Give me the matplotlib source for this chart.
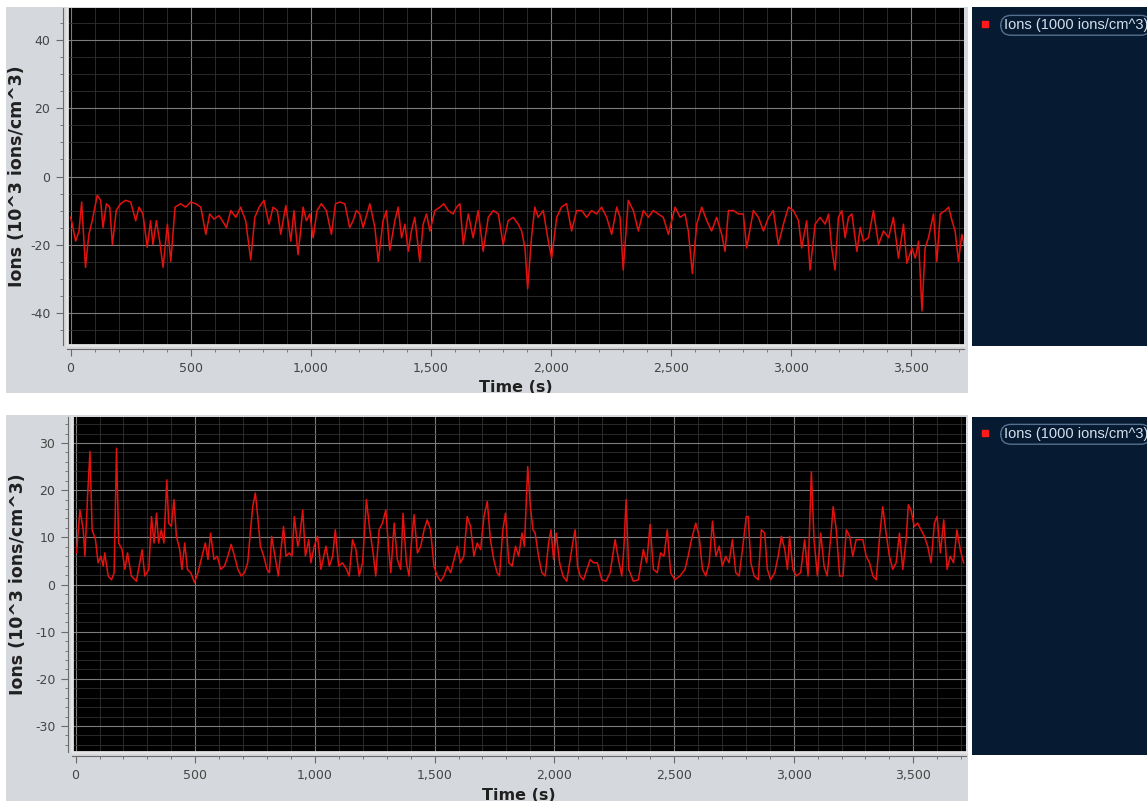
import matplotlib.pyplot as plt
from matplotlib.patches import Rectangle
from matplotlib.lines import Line2D
from matplotlib.ticker import MultipleLocator, StrMethodFormatter

plt.rcParams['axes.unicode_minus'] = False
plt.rcParams['font.family'] = 'DejaVu Sans'

# --- data (time in s, ions in 10^3 ions/cm^3) ---
t_top = [0, 7, 21, 35, 46, 62, 76, 90, 111, 125, 135, 149, 163, 174, 190, 208, 229, 250,
         271, 285, 301, 319, 333, 343, 357, 371, 385, 403, 417, 435, 458, 479, 500, 521,
         542, 563, 579, 597, 618, 632, 649, 667, 688, 708, 729, 750, 767, 785, 805, 826,
         843, 861, 875, 896, 917, 930, 947, 968, 982, 996, 1010, 1026, 1044, 1065, 1086,
         1103, 1121, 1142, 1162, 1176, 1190, 1204, 1218, 1246, 1267, 1281, 1301, 1315,
         1329, 1350, 1364, 1378, 1392, 1406, 1419, 1433, 1454, 1468, 1482, 1496, 1517,
         1538, 1554, 1572, 1593, 1607, 1621, 1635, 1656, 1676, 1697, 1718, 1739, 1760,
         1781, 1801, 1822, 1843, 1864, 1878, 1892, 1903, 1919, 1933, 1947, 1968, 1989,
         2003, 2024, 2044, 2065, 2086, 2107, 2128, 2149, 2169, 2190, 2211, 2232, 2253,
         2274, 2288, 2301, 2322, 2343, 2364, 2385, 2406, 2426, 2447, 2468, 2489, 2503,
         2517, 2538, 2558, 2572, 2589, 2607, 2628, 2649, 2669, 2690, 2711, 2725, 2739,
         2760, 2781, 2801, 2815, 2843, 2864, 2885, 2906, 2926, 2947, 2968, 2989, 3010,
         3031, 3044, 3065, 3079, 3100, 3121, 3142, 3156, 3169, 3183, 3197, 3211, 3225,
         3239, 3253, 3274, 3288, 3301, 3322, 3343, 3364, 3385, 3406, 3426, 3447, 3468,
         3482, 3503, 3517, 3531, 3545, 3558, 3572, 3593, 3607, 3621, 3642, 3656, 3670,
         3683, 3697, 3711, 3720]
ions_top = [-12, -14, -19, -16, -7.5, -26.7, -17, -13, -5.5, -7, -15, -8, -9, -20, -10, -8, -7, -7.5,
            -13, -9, -11, -20.8, -13, -20, -13, -19, -26.7, -14, -25, -9, -8, -9, -7.5, -8,
            -9, -17, -11, -12.5, -11.5, -13, -15, -10, -12, -9, -13, -24.5, -12, -9, -7, -14,
            -9, -10, -17, -8.5, -19, -10, -23, -9, -13, -11, -18, -10, -8, -10, -17,
            -8, -7.5, -8, -15, -13, -10, -11, -15, -8, -15, -25, -13, -10,
            -21.7, -13, -9, -18, -14, -22, -16, -12, -25, -14, -11, -16, -10,
            -9, -8, -10, -11, -9, -8, -20, -11, -18, -10, -22, -12, -10,
            -11, -20, -13, -12, -14, -16, -21, -33, -18, -9, -12, -10, -19,
            -24, -12, -9, -8, -16, -10, -10, -12, -10, -11, -9, -12, -17,
            -9, -12, -27.5, -7, -10, -16, -10, -12, -10, -11, -12, -17, -13,
            -9, -12, -11, -16, -28.5, -14, -9, -13, -16, -12, -17, -22, -10,
            -10, -11, -11, -21, -10, -12, -16, -12, -10, -20, -14, -9, -10,
            -13, -21, -13, -27.5, -14, -12, -14, -11, -21, -27.5, -12, -10, -18,
            -12, -11, -22, -15, -19, -18, -10, -20, -16, -18, -12, -24, -14,
            -25.5, -21, -24, -19, -39.5, -21, -18, -11, -25, -11, -10, -9, -13,
            -16, -25, -17, -20]

t_bot = [4, 18, 32, 39, 50, 60, 69, 83, 94, 106, 115, 122, 136, 150, 161, 171, 180, 194,
         206, 217, 233, 254, 268, 278, 289, 306, 317, 328, 338, 347, 358, 369, 381, 389,
         400, 411, 421, 435, 444, 456, 467, 481, 497, 511, 528, 542, 553, 564, 578, 592,
         606, 622, 636, 650, 664, 678, 692, 706, 719, 731, 740, 751, 761, 772, 786, 800,
         810, 819, 833, 847, 858, 869, 879, 893, 904, 914, 928, 935, 949, 960, 974, 983,
         997, 1011, 1025, 1046, 1060, 1074, 1085, 1099, 1115, 1132, 1143, 1157, 1171,
         1185, 1199, 1215, 1229, 1243, 1254, 1268, 1282, 1296, 1307, 1317, 1331, 1344,
         1358, 1368, 1382, 1393, 1404, 1414, 1428, 1442, 1456, 1469, 1483, 1497, 1511,
         1525, 1539, 1553, 1567, 1581, 1595, 1608, 1622, 1636, 1650, 1664, 1678, 1692,
         1706, 1720, 1733, 1747, 1761, 1771, 1785, 1796, 1810, 1824, 1838, 1851, 1865,
         1875, 1889, 1900, 1911, 1920, 1934, 1948, 1962, 1976, 1986, 1997, 2008, 2022,
         2036, 2052, 2066, 2077, 2087, 2097, 2108, 2122, 2136, 2150, 2164, 2180, 2198,
         2216, 2233, 2254, 2268, 2282, 2291, 2300, 2311, 2330, 2351, 2372, 2386, 2400,
         2414, 2430, 2444, 2458, 2472, 2486, 2504, 2525, 2546, 2559, 2573, 2591, 2605,
         2619, 2633, 2647, 2661, 2675, 2689, 2702, 2716, 2730, 2744, 2758, 2772, 2786,
         2802, 2810, 2821, 2835, 2852, 2865, 2879, 2890, 2904, 2921, 2935, 2949, 2963,
         2974, 2983, 2997, 3011, 3029, 3046, 3060, 3074, 3085, 3099, 3113, 3127, 3140,
         3154, 3165, 3178, 3192, 3206, 3220, 3234, 3247, 3261, 3275, 3289, 3303, 3317,
         3331, 3345, 3359, 3372, 3386, 3400, 3414, 3428, 3442, 3456, 3470, 3479, 3490,
         3504, 3518, 3532, 3546, 3560, 3574, 3588, 3599, 3613, 3627, 3641, 3654, 3668,
         3682, 3696, 3710]
ions_bot = [6.7, 15.8, 11.6, 6, 18.7, 28.2, 11.6, 9.5, 4.6, 6, 3.9, 6.7, 1.8, 1, 2.5, 28.9, 8.8, 7.4,
            3.2, 6.7, 1.8, 0.7, 4.6, 7.4, 1.8, 3.2, 14.4, 8.8, 15.1, 8.8, 11.6, 8.8, 22.2, 13,
            12.3, 18, 10.2, 7.4, 3.2, 8.8, 3.2, 2.5, 0.4, 2.5, 6, 8.8, 5.3, 10.9, 5.3, 6,
            3.2, 3.9, 6, 8.5, 6, 3.2, 1.8, 2.5, 4.6, 11.6, 16.5, 19.4, 14.4, 8.1, 6, 3.2,
            2.5, 10.2, 6, 1.8, 7.4, 12.3, 6, 6.7, 6, 14.4, 8.1, 9.5, 15.8, 6, 9.5, 4.6,
            8.1, 10.2, 3.2, 8.1, 3.9, 6, 11.6, 3.9, 4.6, 3.2, 1.8, 9.5, 7.4,
            1.8, 4.6, 18, 11.6, 6.7, 1.8, 11.6, 13, 15.8, 8.1, 2.5, 13, 5.3,
            3.2, 15.1, 4.6, 1.8, 9.5, 14.8, 6.7, 8.1, 11.6, 13.7, 11.6, 3.9, 1.8,
            0.7, 1.8, 3.9, 2.5, 5.3, 8.1, 4.6, 6, 14.4, 12.3, 6, 8.8, 7.4,
            14.4, 17.6, 9.5, 5.3, 2.5, 1.8, 11.6, 15.1, 4.6, 3.9, 8.1, 6, 10.9,
            8.1, 25, 16.5, 11.6, 10.9, 6, 2.5, 1.8, 8.8, 11.6, 5.3, 10.9, 4.6,
            1.8, 0.7, 5.3, 8.8, 11.6, 3.9, 1.8, 1, 3.2, 5.3, 4.6, 4.6, 1,
            0.7, 2.5, 9.5, 5.3, 1.8, 8.1, 18, 3.2, 0.7, 1, 7.4, 4.6, 12.7,
            3.2, 2.5, 6.7, 6, 11.6, 2.5, 1, 1.8, 3.2, 6, 9.5, 13, 10.2,
            3.2, 1.8, 4.6, 13.4, 6, 8.1, 3.9, 6, 4.6, 9.5, 2.5, 1.8, 7.4,
            14.4, 14.4, 4.6, 1.8, 1, 11.6, 10.9, 3.2, 1, 2.5, 6, 10.2, 7.4,
            3.2, 10.2, 3.2, 1.8, 2.5, 9.5, 1.8, 23.9, 9.5, 1.8, 10.9, 3.9, 1.8,
            9.5, 16.5, 11.6, 1.8, 1.8, 11.6, 10.2, 6, 9.5, 9.5, 9.5, 6, 4.6,
            1.8, 1, 10.2, 16.5, 10.9, 6, 3.2, 4.6, 10.9, 3.2, 9.5, 16.9, 15.8,
            12.3, 13, 11.6, 10.2, 8.1, 4.6, 13, 14.4, 6.7, 13.7, 3.2, 6, 4.6,
            11.6, 7.4, 4.6]

ylabel = 'Ions (10^3 ions/cm^3)'
series_label = 'Ions (1000 ions/cm^3)'

W, H = 1147, 801
gray = '#d5d8dc'
navy = '#061a31'


def fbox(x0, y0, x1, y1):
    # pixel box (top-left origin) -> figure fraction [left, bottom, width, height]
    return [x0 / W, 1 - y1 / H, (x1 - x0) / W, (y1 - y0) / H]


def rect(x0, y0, x1, y1, color, z):
    b = fbox(x0, y0, x1, y1)
    fig.patches.append(Rectangle((b[0], b[1]), b[2], b[3], transform=fig.transFigure,
                                 facecolor=color, edgecolor='none', zorder=z))


fig = plt.figure(figsize=(W / 100, H / 100), dpi=100)
fig.patch.set_facecolor('white')

rect(6, 7, 968, 393, gray, -1)
rect(6, 415, 968, 801, gray, -1)
rect(972, 7, 1147, 346, navy, -1)
rect(972, 417, 1147, 755, navy, -1)
rect(0, 393, 1147, 415, 'white', 10)   # gap between the two screenshots


def panel(box, t, v, ylim, ymaj, ymin, lab_x, xlab_y, leg_y):
    ax = fig.add_axes(fbox(*box))
    ax.set_facecolor('black')
    ax.plot(t, v, color='#e3120f', lw=1.1)
    ax.set_xlim(-15, 3720)
    ax.set_ylim(*ylim)
    ax.xaxis.set_major_locator(MultipleLocator(500))
    ax.xaxis.set_minor_locator(MultipleLocator(100))
    ax.yaxis.set_major_locator(MultipleLocator(ymaj))
    ax.yaxis.set_minor_locator(MultipleLocator(ymin))
    ax.xaxis.set_major_formatter(StrMethodFormatter('{x:,.0f}'))
    ax.grid(which='major', color='#7c7c7c', lw=0.8)
    ax.grid(which='minor', color='#303030', lw=0.6)
    ax.set_axisbelow(True)
    for s in ['top', 'right']:
        ax.spines[s].set_visible(False)
    for s in ['left', 'bottom']:
        ax.spines[s].set_position(('outward', 3))
        ax.spines[s].set_color('#6a6a6a')
    ax.tick_params(which='major', length=5, color='#6a6a6a', labelcolor='#454545',
                   labelsize=9, pad=4)
    ax.tick_params(which='minor', length=2.5, color='#6a6a6a')
    # light frame on the plot's left and bottom edge
    ax.plot([0, 0, 1], [1, 0, 0], transform=ax.transAxes, color='#e4e4e4', lw=2, clip_on=False)

    ax.set_ylabel(ylabel, fontweight='bold', fontsize=12.5, color='#202020')
    ax.yaxis.set_label_coords(lab_x, 0.5)
    ax.set_xlabel('Time (s)', fontweight='bold', fontsize=11.5, color='#202020')
    ax.xaxis.set_label_coords(0.5, xlab_y)

    handle = Line2D([], [], color='#ff1a1a', marker='s', ls='none', markersize=5)
    leg = ax.legend([handle], [series_label], loc='upper left',
                    bbox_to_anchor=(973 / W, 1 - leg_y / H), bbox_transform=fig.transFigure,
                    frameon=False, handlelength=0.6, handletextpad=1.0, borderpad=0,
                    prop={'family': 'Liberation Sans', 'size': 10.5})
    txt = leg.get_texts()[0]
    txt.set_color('#d4e0ec')
    txt.set_bbox(dict(boxstyle='round,pad=0.2,rounding_size=0.7', fc=navy, ec='#55708e', lw=1))
    return ax


panel((67, 8, 964, 345), t_top, ions_top, (-49.5, 49.5), 20, 5, -0.046, -0.105, 11)
panel((72, 417, 966, 752), t_bot, ions_bot, (-35.5, 35.5), 10, 2, -0.05, -0.107, 420)

fig.savefig('out.png', dpi=100, facecolor=fig.get_facecolor())
